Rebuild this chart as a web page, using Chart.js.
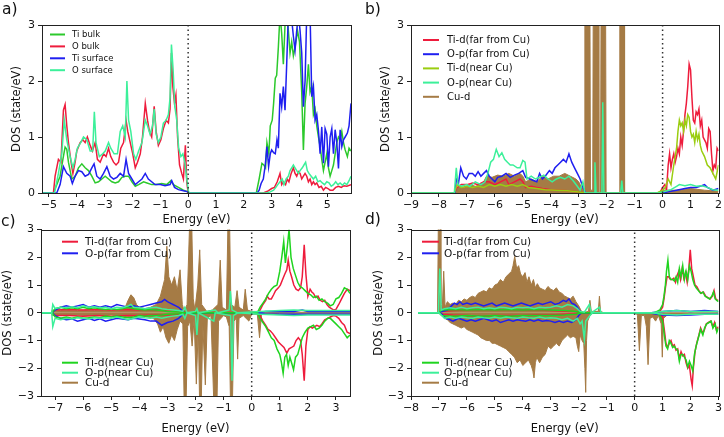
<!DOCTYPE html>
<html>
<head>
<meta charset="utf-8">
<script src="https://cdn.jsdelivr.net/npm/chart.js@4.4.0/dist/chart.umd.min.js"></script>
<style>
body { margin: 0; background: #fff; width: 724px; height: 437px; overflow: hidden; position: relative; font-family: "DejaVu Sans", sans-serif; }
canvas { position: absolute; }
.tag { position: absolute; font-size: 15.5px; line-height: 1; color: #111; }
</style>
</head>
<body>
<canvas id="pa" width="362" height="228" style="left:0;top:0"></canvas>
<canvas id="pb" width="362" height="228" style="left:362px;top:0"></canvas>
<canvas id="pc" width="362" height="217" style="left:0;top:220px"></canvas>
<canvas id="pd" width="362" height="217" style="left:362px;top:220px"></canvas>
<div class="tag" style="left:2px;top:2px">a)</div>
<div class="tag" style="left:365px;top:2px">b)</div>
<div class="tag" style="left:1px;top:214px">c)</div>
<div class="tag" style="left:365px;top:212px">d)</div>
<script>
// ---- values: [energy (eV), DOS (state/eV)] ----
var fermi = 0;
var xRangeA = [-5.25, 5.85], xRangeB = [-9, 2], xRangeC = [-7.5, 3.5], xRangeD = [-8, 3];
var yRangeTop = [0, 3], yRangeBottom = [-3, 3];
var xTicksA = [-5, -4, -3, -2, -1, 0, 1, 2, 3, 4, 5];
var xTicksB = [-9, -8, -7, -6, -5, -4, -3, -2, -1, 0, 1, 2];
var xTicksC = [-7, -6, -5, -4, -3, -2, -1, 0, 1, 2, 3];
var xTicksD = [-8, -7, -6, -5, -4, -3, -2, -1, 0, 1, 2, 3];
var yTicksTop = [0, 1, 2, 3];
var yTicksBottom = [-3, -2, -1, 0, 1, 2, 3];

// a) bare surface
var aTiBulk = [[-5.25,0],[-4.84,0],[-4.72,0.15],[-4.6,0.3],[-4.5,0.6],[-4.42,0.82],[-4.36,0.78],[-4.3,0.55],[-4.18,0.25],[-4.06,0.3],[-3.94,0.45],[-3.82,0.52],[-3.7,0.45],[-3.58,0.4],[-3.46,0.3],[-3.34,0.18],[-3.22,0.2],[-3.1,0.25],[-2.98,0.3],[-2.86,0.25],[-2.74,0.2],[-2.62,0.18],[-2.5,0.2],[-2.38,0.28],[-2.26,0.3],[-2.14,0.3],[-2.02,0.2],[-1.9,0.12],[-1.78,0.15],[-1.6,0.2],[-1.48,0.18],[-1.31,0.15],[-1.13,0.15],[-0.95,0.17],[-0.77,0.15],[-0.62,0.22],[-0.53,0.15],[-0.35,0.1],[-0.17,0.05],[0,0.02],[0.05,0],
  [2.45,0],[2.55,0.25],[2.65,0.53],[2.72,0.5],[2.78,0.45],[2.83,0.9],[2.9,0.7],[2.95,1.2],[3.02,1.3],[3.07,1.6],[3.13,2.05],[3.18,2.1],[3.24,2.6],[3.3,3.2],[3.36,2.85],[3.42,2.3],[3.48,3.0],[3.54,3.2],[3.6,2.9],[3.66,2.5],[3.72,2.7],[3.78,2.45],[3.84,2.6],[3.93,2.9],[4.0,2.7],[4.08,1.8],[4.14,0.77],[4.2,1.6],[4.26,1.9],[4.32,2.3],[4.38,1.8],[4.44,1.9],[4.5,1.4],[4.56,1.5],[4.62,1.2],[4.68,1.0],[4.74,0.83],[4.8,0.6],[4.86,0.4],[4.92,0.55],[4.98,0.7],[5.04,0.45],[5.1,0.3],[5.16,0.4],[5.22,0.5],[5.28,0.7],[5.34,0.9],[5.4,1.0],[5.46,0.95],[5.52,1.1],[5.58,0.9],[5.64,0.77],[5.72,0.65],[5.78,0.8],[5.85,0.75]];
var aOBulk = [[-5.25,0],[-4.84,0],[-4.78,0.3],[-4.66,0.6],[-4.57,0.55],[-4.48,1.48],[-4.42,1.58],[-4.36,1.2],[-4.3,0.9],[-4.22,0.6],[-4.14,0.35],[-4.06,0.55],[-4.0,0.75],[-3.88,0.9],[-3.78,0.95],[-3.7,0.9],[-3.62,1.0],[-3.52,0.85],[-3.44,0.75],[-3.34,0.9],[-3.26,0.6],[-3.16,0.55],[-3.04,0.7],[-2.95,0.65],[-2.86,0.8],[-2.78,0.65],[-2.68,0.55],[-2.59,0.5],[-2.5,0.55],[-2.42,0.8],[-2.32,0.9],[-2.23,1.3],[-2.17,1.1],[-2.08,0.9],[-1.99,0.7],[-1.9,0.45],[-1.82,0.55],[-1.72,0.7],[-1.64,1.0],[-1.54,1.6],[-1.46,1.3],[-1.39,1.1],[-1.31,1.0],[-1.22,1.55],[-1.15,1.1],[-1.07,0.85],[-0.98,0.95],[-0.89,1.15],[-0.79,1.3],[-0.71,1.25],[-0.65,1.5],[-0.6,2.5],[-0.55,1.9],[-0.49,1.6],[-0.44,1.75],[-0.38,1.0],[-0.31,0.5],[-0.23,0.35],[-0.17,0.25],[-0.1,0.85],[-0.05,0.2],[0,0],
  [2.7,0],[2.85,0.03],[3.0,0.08],[3.1,0.1],[3.2,0.2],[3.3,0.35],[3.36,0.15],[3.42,0.2],[3.5,0.15],[3.56,0.25],[3.62,0.2],[3.7,0.35],[3.78,0.45],[3.84,0.35],[3.9,0.3],[3.96,0.38],[4.02,0.35],[4.08,0.25],[4.14,0.3],[4.2,0.35],[4.26,0.3],[4.32,0.2],[4.38,0.25],[4.44,0.15],[4.5,0.2],[4.56,0.15],[4.62,0.18],[4.7,0.1],[4.78,0.12],[4.86,0.05],[4.94,0.1],[5.02,0.08],[5.1,0.05],[5.2,0.05],[5.3,0.1],[5.4,0.12],[5.5,0.1],[5.6,0.13],[5.7,0.12],[5.85,0.15]];
var aTiSurf = [[-5.25,0],[-4.72,0],[-4.6,0.15],[-4.48,0.47],[-4.36,0.35],[-4.24,0.3],[-4.16,0.17],[-4.06,0.3],[-3.94,0.4],[-3.82,0.38],[-3.7,0.3],[-3.58,0.33],[-3.46,0.45],[-3.38,0.52],[-3.28,0.3],[-3.16,0.25],[-3.04,0.35],[-2.92,0.47],[-2.8,0.3],[-2.68,0.25],[-2.56,0.28],[-2.44,0.35],[-2.32,0.3],[-2.23,0.6],[-2.14,0.35],[-2.02,0.25],[-1.9,0.15],[-1.78,0.2],[-1.66,0.25],[-1.54,0.35],[-1.43,0.25],[-1.31,0.2],[-1.19,0.15],[-1.0,0.15],[-0.83,0.13],[-0.65,0.15],[-0.59,0.22],[-0.49,0.1],[-0.35,0.06],[-0.17,0.04],[0,0.02],[0.05,0],
  [2.48,0],[2.55,0.05],[2.62,0.17],[2.7,0.25],[2.77,0.5],[2.83,0.83],[2.89,0.47],[2.95,0.7],[3.0,0.77],[3.07,0.72],[3.13,0.7],[3.19,0.95],[3.24,0.8],[3.3,1.78],[3.36,1.54],[3.42,1.9],[3.48,1.48],[3.54,2.3],[3.6,3.2],[3.7,3.2],[3.78,2.8],[3.84,2.55],[3.9,2.9],[3.96,3.2],[4.02,2.9],[4.08,2.5],[4.14,1.54],[4.2,2.0],[4.26,3.2],[4.38,3.2],[4.44,1.72],[4.5,1.9],[4.56,1.3],[4.62,1.4],[4.68,1.12],[4.74,0.7],[4.8,1.18],[4.86,0.53],[4.92,1.15],[4.98,1.05],[5.04,0.47],[5.1,1.0],[5.16,1.15],[5.22,0.7],[5.28,1.13],[5.34,0.9],[5.4,0.44],[5.46,1.13],[5.52,0.83],[5.58,0.95],[5.64,1.0],[5.72,1.07],[5.78,1.2],[5.85,1.6]];
var aOSurf = [[-5.25,0],[-4.8,0],[-4.78,0.05],[-4.66,0.35],[-4.54,0.7],[-4.45,1.3],[-4.36,0.95],[-4.24,0.65],[-4.14,0.45],[-4.06,0.6],[-3.98,0.8],[-3.86,0.9],[-3.76,1.0],[-3.64,0.95],[-3.52,0.75],[-3.43,0.75],[-3.37,1.45],[-3.31,0.9],[-3.19,0.65],[-3.07,0.7],[-2.98,0.75],[-2.86,0.9],[-2.78,0.8],[-2.66,0.7],[-2.54,0.7],[-2.44,1.1],[-2.35,1.2],[-2.26,1.0],[-2.2,2.0],[-2.14,1.3],[-2.06,1.1],[-1.96,0.7],[-1.88,0.6],[-1.78,0.75],[-1.66,0.9],[-1.54,1.3],[-1.46,1.2],[-1.37,1.05],[-1.28,1.2],[-1.22,1.5],[-1.15,1.05],[-1.07,0.9],[-0.98,1.0],[-0.89,1.25],[-0.79,1.3],[-0.71,1.4],[-0.65,1.7],[-0.6,2.65],[-0.54,2.2],[-0.48,1.55],[-0.41,1.3],[-0.34,0.8],[-0.26,0.65],[-0.19,0.7],[-0.12,0.55],[-0.05,0.25],[0.02,0],
  [2.8,0],[2.95,0.02],[3.07,0.05],[3.15,0.1],[3.22,0.15],[3.3,0.2],[3.38,0.25],[3.44,0.15],[3.52,0.25],[3.6,0.3],[3.66,0.4],[3.72,0.45],[3.78,0.5],[3.84,0.45],[3.9,0.4],[3.96,0.35],[4.02,0.4],[4.1,0.45],[4.16,0.5],[4.22,0.55],[4.28,0.4],[4.34,0.35],[4.42,0.3],[4.5,0.25],[4.58,0.3],[4.66,0.2],[4.74,0.22],[4.82,0.18],[4.9,0.15],[4.98,0.2],[5.06,0.18],[5.14,0.12],[5.22,0.15],[5.3,0.2],[5.38,0.15],[5.46,0.18],[5.54,0.14],[5.62,0.18],[5.7,0.15],[5.78,0.22],[5.85,0.3]];

// b) Cu on surface, no spin
var bTiFar = [[-9,0],[-7.45,0],[-7.35,0.1],[-7.2,0.15],[-7.0,0.15],[-6.8,0.18],[-6.6,0.15],[-6.4,0.2],[-6.2,0.2],[-6.0,0.15],[-5.8,0.2],[-5.6,0.25],[-5.5,0.15],[-5.3,0.2],[-5.1,0.25],[-5.0,0.2],[-4.9,0.1],[-4.7,0.12],[-4.5,0.1],[-4.3,0.08],[-4.0,0.06],[-3.7,0.05],[-3.4,0.04],[-3.0,0.02],[-2.8,0],[-0.1,0],[0.0,0.1],[0.08,0.15],[0.14,0.05],[0.2,0.5],[0.25,0.7],[0.3,0.45],[0.35,0.6],[0.4,0.7],[0.45,0.55],[0.5,0.65],[0.55,0.8],[0.6,0.7],[0.65,1.0],[0.7,0.85],[0.75,1.1],[0.8,1.4],[0.85,1.6],[0.9,1.9],[0.95,2.3],[1.0,2.2],[1.05,1.7],[1.1,1.3],[1.15,1.25],[1.2,1.45],[1.25,1.4],[1.3,1.5],[1.35,1.2],[1.4,1.3],[1.45,1.0],[1.5,0.95],[1.55,0.9],[1.6,0.8],[1.65,1.15],[1.7,1.1],[1.75,0.7],[1.8,0.4],[1.85,0.5],[1.9,0.45],[1.95,0.8],[2.0,0.75]];
var bOFar = [[-9,0],[-7.42,0],[-7.38,0.25],[-7.3,0.18],[-7.22,0.45],[-7.12,0.3],[-7.02,0.25],[-6.92,0.35],[-6.8,0.35],[-6.7,0.3],[-6.6,0.38],[-6.5,0.3],[-6.4,0.35],[-6.3,0.4],[-6.2,0.3],[-6.1,0.25],[-6.0,0.2],[-5.9,0.28],[-5.75,0.3],[-5.6,0.35],[-5.45,0.28],[-5.3,0.32],[-5.15,0.35],[-5.0,0.4],[-4.9,0.28],[-4.75,0.25],[-4.6,0.22],[-4.5,0.2],[-4.4,0.35],[-4.3,0.25],[-4.2,0.3],[-4.05,0.4],[-3.95,0.35],[-3.85,0.45],[-3.75,0.5],[-3.65,0.55],[-3.55,0.6],[-3.45,0.55],[-3.35,0.7],[-3.25,0.55],[-3.15,0.45],[-3.05,0.35],[-2.95,0.25],[-2.85,0.1],[-2.75,0],[0.0,0],[0.2,0.02],[0.5,0.05],[0.8,0.08],[1.0,0.1],[1.2,0.1],[1.4,0.13],[1.5,0.15],[1.6,0.1],[1.8,0.05],[2,0.08]];
var bTiNear = [[-9,0],[-7.45,0],[-7.35,0.15],[-7.2,0.1],[-7.0,0.12],[-6.8,0.1],[-6.6,0.12],[-6.4,0.1],[-6.2,0.15],[-6.0,0.12],[-5.8,0.15],[-5.6,0.12],[-5.4,0.15],[-5.2,0.12],[-5.0,0.15],[-4.8,0.1],[-4.5,0.08],[-4.2,0.06],[-3.8,0.05],[-3.4,0.04],[-3.0,0.02],[-2.8,0],[-0.2,0],[0.0,0.05],[0.1,0.1],[0.2,0.25],[0.3,0.15],[0.4,0.5],[0.5,0.8],[0.55,1.1],[0.6,1.3],[0.65,1.2],[0.7,1.25],[0.75,1.1],[0.8,1.3],[0.85,1.2],[0.9,1.4],[0.95,1.35],[1.0,1.1],[1.05,1.0],[1.1,1.05],[1.15,0.9],[1.2,1.1],[1.25,0.95],[1.3,1.05],[1.35,0.85],[1.4,0.75],[1.5,0.65],[1.6,0.5],[1.7,0.45],[1.8,0.35],[1.9,0.25],[2.0,0.5]];
var bONear = [[-9,0],[-7.45,0],[-7.38,0.45],[-7.32,0.15],[-7.2,0.12],[-7.0,0.15],[-6.9,0.12],[-6.7,0.2],[-6.5,0.15],[-6.35,0.2],[-6.25,0.35],[-6.15,0.55],[-6.05,0.6],[-5.95,0.78],[-5.85,0.65],[-5.75,0.72],[-5.65,0.6],[-5.55,0.55],[-5.45,0.5],[-5.35,0.5],[-5.2,0.45],[-5.1,0.45],[-5.0,0.58],[-4.92,0.55],[-4.85,0.25],[-4.7,0.3],[-4.55,0.25],[-4.4,0.28],[-4.25,0.32],[-4.1,0.25],[-3.95,0.2],[-3.8,0.25],[-3.65,0.28],[-3.5,0.25],[-3.35,0.3],[-3.2,0.22],[-3.05,0.12],[-2.95,0.05],[-2.85,0.2],[-2.78,0],[-2.45,0],[-2.42,0.55],[-2.38,0],[-2.17,0],[-2.14,1.62],[-2.1,0],[-1.5,0],[-1.46,0.22],[-1.42,0],[-0.15,0],[0.1,0.03],[0.3,0.06],[0.5,0.12],[0.6,0.15],[0.8,0.13],[1.0,0.15],[1.2,0.12],[1.4,0.13],[1.6,0.1],[1.8,0.06],[2,0.05]];
var bCu = [[-9,0],[-7.45,0],[-7.4,0.05],[-7.3,0.12],[-7.1,0.1],[-6.9,0.15],[-6.7,0.12],[-6.5,0.15],[-6.4,0.2],[-6.3,0.3],[-6.1,0.28],[-5.9,0.32],[-5.7,0.3],[-5.5,0.35],[-5.3,0.3],[-5.1,0.35],[-5.0,0.3],[-4.9,0.2],[-4.7,0.25],[-4.5,0.2],[-4.3,0.3],[-4.1,0.25],[-3.9,0.3],[-3.7,0.3],[-3.5,0.35],[-3.3,0.3],[-3.1,0.25],[-3.0,0.2],[-2.9,0.1],[-2.8,0.05],[-2.78,3.5],[-2.6,3.5],[-2.58,0.05],[-2.5,0.05],[-2.48,3.5],[-2.3,3.5],[-2.28,0],[-2.22,0],[-2.2,3.5],[-2.04,3.5],[-2.02,0],[-1.55,0],[-1.53,3.5],[-1.38,3.5],[-1.36,0],[-0.2,0],[0,0.05],[0.5,0.05],[1.0,0.08],[1.5,0.05],[2,0.03]];

// c) Cu on surface, spin up (+) / spin down (-)
var cTiFarUp = [[-7.5,0],[-7.1,0],[-7.0,0.1],[-6.5,0.12],[-6,0.1],[-5.5,0.12],[-5,0.1],[-4.5,0.12],[-4,0.1],[-3.5,0.1],[-3,0.08],[-2.5,0.05],[-2.3,0],[0.2,0],[0.3,0.1],[0.4,0.3],[0.5,0.45],[0.55,0.6],[0.62,0.5],[0.7,0.5],[0.78,0.65],[0.85,0.8],[0.95,0.9],[1.02,1.0],[1.1,1.2],[1.18,1.4],[1.25,1.55],[1.3,1.9],[1.36,1.5],[1.42,1.3],[1.5,1.0],[1.58,0.85],[1.66,0.8],[1.74,0.9],[1.8,1.3],[1.87,2.45],[1.93,1.4],[2.0,0.6],[2.08,0.85],[2.14,0.75],[2.2,0.7],[2.28,0.55],[2.36,0.6],[2.44,0.45],[2.52,0.4],[2.6,0.45],[2.68,0.3],[2.76,0.2],[2.84,0.15],[2.92,0.1],[3.0,0.12],[3.1,0.3],[3.2,0.5],[3.3,0.7],[3.4,0.85],[3.5,0.8]];
var cTiFarDn = [[-7.5,0],[-7.1,0],[-7.0,-0.1],[-6.5,-0.1],[-6,-0.12],[-5.5,-0.1],[-5,-0.12],[-4.5,-0.1],[-4,-0.1],[-3.5,-0.08],[-3,-0.08],[-2.5,-0.05],[-2.3,0],[0.2,0],[0.3,-0.1],[0.4,-0.3],[0.5,-0.45],[0.58,-0.6],[0.66,-0.65],[0.75,-0.75],[0.85,-0.9],[0.95,-1.05],[1.05,-1.15],[1.15,-1.25],[1.25,-1.45],[1.33,-1.3],[1.42,-1.25],[1.5,-1.2],[1.58,-1.0],[1.66,-0.9],[1.74,-1.0],[1.8,-1.5],[1.87,-2.45],[1.93,-1.2],[2.0,-0.6],[2.08,-0.5],[2.16,-0.55],[2.24,-0.5],[2.32,-0.45],[2.42,-0.5],[2.5,-0.4],[2.6,-0.25],[2.7,-0.2],[2.8,-0.15],[2.9,-0.1],[3.0,-0.12],[3.1,-0.2],[3.2,-0.35],[3.3,-0.45],[3.4,-0.7],[3.5,-0.75]];
var cOFarUp = [[-7.5,0],[-7.1,0],[-7.0,0.1],[-6.8,0.2],[-6.6,0.25],[-6.4,0.2],[-6.2,0.25],[-6.0,0.3],[-5.8,0.2],[-5.6,0.25],[-5.4,0.2],[-5.2,0.25],[-5.0,0.2],[-4.8,0.3],[-4.6,0.25],[-4.4,0.2],[-4.2,0.25],[-4.0,0.2],[-3.8,0.25],[-3.6,0.3],[-3.4,0.35],[-3.2,0.4],[-3.1,0.48],[-3.0,0.4],[-2.9,0.35],[-2.8,0.3],[-2.7,0.25],[-2.6,0.2],[-2.5,0.1],[-2.4,0],[0.2,0],[0.5,0.05],[1.0,0.05],[1.5,0.05],[1.8,0.1],[2.0,0.05],[2.5,0.05],[3.0,0.05],[3.5,0.05]];
var cOFarDn = [[-7.5,0],[-7.1,0],[-7.0,-0.1],[-6.8,-0.2],[-6.6,-0.25],[-6.4,-0.22],[-6.2,-0.3],[-6.0,-0.25],[-5.8,-0.2],[-5.6,-0.28],[-5.4,-0.22],[-5.2,-0.3],[-5.0,-0.25],[-4.8,-0.2],[-4.6,-0.22],[-4.4,-0.25],[-4.2,-0.2],[-4.0,-0.22],[-3.8,-0.25],[-3.6,-0.3],[-3.4,-0.3],[-3.2,-0.45],[-3.0,-0.35],[-2.8,-0.3],[-2.6,-0.2],[-2.5,-0.1],[-2.4,0],[0.2,0],[0.5,-0.05],[1.0,-0.05],[1.5,-0.05],[2.0,-0.05],[2.5,-0.05],[3.0,-0.05],[3.5,-0.05]];
var cTiNearUp = [[-7.5,0],[-7.1,0],[-7.0,0.15],[-6.8,0.2],[-6.6,0.15],[-6.4,0.18],[-6.2,0.15],[-6,0.2],[-5.8,0.15],[-5.6,0.18],[-5.4,0.15],[-5.2,0.12],[-5,0.15],[-4.8,0.12],[-4.6,0.15],[-4.4,0.2],[-4.2,0.15],[-4,0.12],[-3.8,0.1],[-3.6,0.12],[-3.4,0.1],[-3.2,0.08],[-3,0.05],[-2.6,0.03],[-2.3,0],[0.2,0],[0.3,0.2],[0.4,0.35],[0.5,0.5],[0.6,0.7],[0.7,0.85],[0.8,0.95],[0.9,1.0],[1.0,1.5],[1.07,2.0],[1.14,2.57],[1.2,1.8],[1.27,2.4],[1.33,3.0],[1.4,2.0],[1.48,1.6],[1.56,1.35],[1.64,1.1],[1.72,0.95],[1.8,0.9],[1.9,0.8],[2.0,0.7],[2.1,0.65],[2.2,0.55],[2.3,0.6],[2.4,0.45],[2.5,0.5],[2.6,0.4],[2.7,0.35],[2.8,0.25],[2.9,0.3],[3.0,0.5],[3.1,0.55],[3.2,0.7],[3.3,0.9],[3.4,0.85],[3.5,0.7]];
var cTiNearDn = [[-7.5,0],[-7.1,0],[-7.0,-0.15],[-6.8,-0.2],[-6.6,-0.15],[-6.4,-0.2],[-6.2,-0.15],[-6,-0.2],[-5.8,-0.18],[-5.6,-0.15],[-5.4,-0.18],[-5.2,-0.12],[-5,-0.15],[-4.8,-0.12],[-4.6,-0.15],[-4.4,-0.18],[-4.2,-0.15],[-4,-0.1],[-3.8,-0.12],[-3.6,-0.1],[-3.4,-0.1],[-3.2,-0.08],[-3,-0.05],[-2.6,-0.03],[-2.3,0],[0.2,0],[0.3,-0.2],[0.4,-0.35],[0.5,-0.5],[0.6,-0.7],[0.7,-0.9],[0.8,-1.0],[0.9,-1.3],[1.0,-1.5],[1.06,-1.8],[1.12,-2.18],[1.18,-1.6],[1.24,-1.5],[1.3,-1.9],[1.36,-1.6],[1.42,-1.8],[1.49,-2.05],[1.56,-1.6],[1.64,-1.5],[1.72,-1.2],[1.8,-0.9],[1.9,-0.7],[2.0,-0.55],[2.1,-0.5],[2.2,-0.45],[2.3,-0.6],[2.4,-0.55],[2.5,-0.45],[2.6,-0.3],[2.7,-0.2],[2.8,-0.2],[2.9,-0.3],[3.0,-0.4],[3.1,-0.5],[3.2,-0.6],[3.3,-0.75],[3.4,-0.9],[3.5,-0.8]];
var cONearUp = [[-7.5,0],[-7.12,0],[-7.08,0.3],[-7.0,0.15],[-6.8,0.2],[-6.6,0.18],[-6.4,0.22],[-6.2,0.18],[-6.0,0.25],[-5.8,0.2],[-5.6,0.22],[-5.4,0.18],[-5.2,0.2],[-5.0,0.15],[-4.8,0.2],[-4.6,0.18],[-4.4,0.25],[-4.3,0.3],[-4.2,0.2],[-4.0,0.18],[-3.8,0.15],[-3.6,0.18],[-3.4,0.2],[-3.2,0.15],[-3.0,0.12],[-2.8,0.1],[-2.6,0.08],[-2.45,0.05],[-2.38,0.2],[-2.3,0],[-2.0,0.05],[-1.95,0.15],[-1.9,0],[-1.3,0.1],[-1.2,0],[-0.8,0.1],[-0.76,0.78],[-0.7,0.1],[-0.5,0],[0.3,0.05],[1.0,0.08],[1.5,0.1],[2.0,0.08],[2.5,0.08],[3.0,0.08],[3.5,0.08]];
var cONearDn = [[-7.5,0],[-7.12,0],[-7.08,-0.5],[-7.0,-0.2],[-6.8,-0.25],[-6.6,-0.2],[-6.4,-0.22],[-6.2,-0.18],[-6.0,-0.2],[-5.8,-0.22],[-5.6,-0.18],[-5.4,-0.2],[-5.2,-0.18],[-5.0,-0.2],[-4.8,-0.15],[-4.6,-0.2],[-4.4,-0.25],[-4.2,-0.2],[-4.0,-0.15],[-3.8,-0.18],[-3.6,-0.2],[-3.4,-0.15],[-3.2,-0.2],[-3.0,-0.15],[-2.8,-0.12],[-2.6,-0.1],[-2.45,-0.05],[-2.38,-0.2],[-2.3,0],[-2.0,-0.1],[-1.95,-0.8],[-1.9,0],[-1.35,-0.3],[-1.3,0],[-0.75,-0.1],[-0.7,-2.45],[-0.65,-0.1],[-0.5,0],[0.3,-0.05],[1.0,-0.08],[1.5,-0.1],[2.0,-0.08],[2.5,-0.08],[3.0,-0.08],[3.5,-0.08]];
var cCuUp = [[-7.5,0],[-7.15,0],[-7.1,0.1],[-6.8,0.08],[-6.5,0.1],[-6.2,0.08],[-5.9,0.1],[-5.6,0.08],[-5.3,0.1],[-5.0,0.08],[-4.7,0.1],[-4.5,0.2],[-4.4,0.45],[-4.3,0.65],[-4.2,0.55],[-4.1,0.3],[-4.0,0.2],[-3.8,0.15],[-3.6,0.2],[-3.4,0.3],[-3.25,0.6],[-3.1,1.2],[-3.02,2.4],[-2.95,1.3],[-2.85,1.0],[-2.75,1.3],[-2.65,0.8],[-2.55,1.55],[-2.47,0.3],[-2.4,0.05],[-2.3,0.3],[-2.2,3.5],[-2.14,3.5],[-2.08,0.5],[-2.02,0.1],[-1.92,1.0],[-1.85,2.27],[-1.78,0.3],[-1.6,0.05],[-1.4,0.1],[-1.2,0.3],[-1.12,1.9],[-1.05,0.2],[-0.9,0.1],[-0.84,3.5],[-0.79,3.5],[-0.74,0.3],[-0.6,0.2],[-0.52,0.8],[-0.45,0.2],[-0.3,0.1],[-0.23,0.85],[-0.15,0.1],[0,0.05],[0.3,0.05],[1.0,0.02],[3.5,0.02]];
var cCuDn = [[-7.5,0],[-7.15,0],[-7.1,-0.1],[-6.8,-0.08],[-6.5,-0.1],[-6.2,-0.08],[-5.9,-0.1],[-5.6,-0.08],[-5.3,-0.1],[-5.0,-0.08],[-4.7,-0.1],[-4.4,-0.15],[-4.2,-0.12],[-4.0,-0.1],[-3.7,-0.15],[-3.5,-0.2],[-3.35,-0.4],[-3.25,-0.7],[-3.15,-0.5],[-3.05,-0.9],[-2.95,-1.1],[-2.85,-0.8],[-2.75,-1.0],[-2.65,-0.6],[-2.55,-0.3],[-2.45,-0.4],[-2.4,-3.5],[-2.34,-3.5],[-2.28,-0.5],[-2.2,-0.3],[-2.12,-1.2],[-2.05,-0.2],[-1.97,-2.57],[-1.9,-0.5],[-1.85,-3.5],[-1.8,-3.5],[-1.74,-0.4],[-1.65,-2.6],[-1.58,-0.2],[-1.45,-0.1],[-1.34,-3.5],[-1.24,-3.5],[-1.18,-0.3],[-1.0,-0.1],[-0.9,-0.15],[-0.8,-0.5],[-0.75,-3.5],[-0.69,-3.5],[-0.63,-0.3],[-0.55,-0.2],[-0.5,-1.67],[-0.45,-0.2],[-0.3,-0.1],[-0.1,-0.3],[0,-0.05],[0.2,-0.05],[0.28,-0.9],[0.35,-0.05],[1.0,-0.02],[3.5,-0.02]];

// d) second Cu configuration, spin up (+) / spin down (-)
var dTiFarUp = [[-7.75,0],[-7.0,0],[-6.9,0.05],[-6.5,0.08],[-6.0,0.1],[-5.5,0.12],[-5.0,0.1],[-4.5,0.12],[-4.0,0.1],[-3.5,0.1],[-3.0,0.08],[-2.5,0.06],[-2.1,0.04],[-1.9,0],[0.8,0],[0.9,0.05],[1.0,0.2],[1.05,0.5],[1.1,0.9],[1.16,1.3],[1.22,1.3],[1.28,1.2],[1.34,1.2],[1.4,1.25],[1.46,1.1],[1.52,1.35],[1.58,1.5],[1.64,1.2],[1.7,1.6],[1.76,1.25],[1.82,1.45],[1.88,1.1],[1.94,1.6],[1.99,2.27],[2.04,1.6],[2.1,1.3],[2.16,1.0],[2.22,0.95],[2.3,0.8],[2.38,0.7],[2.46,0.75],[2.54,0.6],[2.62,0.55],[2.7,0.5],[2.78,0.6],[2.84,0.8],[2.9,0.5],[2.96,0.45],[3.0,0.45]];
var dTiFarDn = [[-7.75,0],[-7.0,0],[-6.9,-0.05],[-6.5,-0.08],[-6.0,-0.1],[-5.5,-0.12],[-5.0,-0.1],[-4.5,-0.1],[-4.0,-0.1],[-3.5,-0.08],[-3.0,-0.08],[-2.5,-0.05],[-2.1,-0.03],[-1.9,0],[0.8,0],[0.9,-0.05],[1.0,-0.15],[1.06,-0.6],[1.12,-1.1],[1.18,-1.25],[1.24,-1.1],[1.3,-1.0],[1.36,-1.2],[1.42,-1.15],[1.48,-1.35],[1.54,-1.3],[1.6,-1.65],[1.66,-1.4],[1.72,-1.55],[1.78,-1.5],[1.84,-1.8],[1.9,-2.0],[1.96,-1.9],[2.02,-2.4],[2.06,-2.63],[2.1,-2.0],[2.16,-1.4],[2.22,-1.1],[2.3,-0.8],[2.36,-0.55],[2.44,-0.75],[2.5,-0.6],[2.56,-0.4],[2.64,-0.35],[2.72,-0.3],[2.8,-0.5],[2.86,-0.35],[2.92,-0.6],[3.0,-0.5]];
var dOFarUp = [[-7.75,0],[-7.0,0],[-6.9,0.05],[-6.7,0.1],[-6.55,0.25],[-6.45,0.35],[-6.35,0.3],[-6.25,0.4],[-6.15,0.3],[-6.0,0.35],[-5.85,0.3],[-5.7,0.35],[-5.55,0.3],[-5.4,0.25],[-5.25,0.3],[-5.1,0.35],[-4.95,0.25],[-4.8,0.3],[-4.65,0.35],[-4.5,0.3],[-4.35,0.25],[-4.2,0.3],[-4.05,0.35],[-3.9,0.3],[-3.75,0.25],[-3.6,0.3],[-3.45,0.35],[-3.3,0.3],[-3.15,0.35],[-3.0,0.4],[-2.85,0.3],[-2.7,0.35],[-2.55,0.45],[-2.45,0.4],[-2.35,0.5],[-2.25,0.35],[-2.15,0.3],[-2.05,0.2],[-1.95,0.05],[-1.85,0],[0.6,0],[0.8,0.03],[1.0,0.05],[1.5,0.08],[2.0,0.05],[2.5,0.08],[3.0,0.05]];
var dOFarDn = [[-7.75,0],[-7.0,0],[-6.9,-0.05],[-6.75,-0.2],[-6.6,-0.25],[-6.5,-0.3],[-6.4,-0.25],[-6.3,-0.2],[-6.15,-0.25],[-6.0,-0.3],[-5.85,-0.25],[-5.7,-0.3],[-5.55,-0.25],[-5.4,-0.2],[-5.25,-0.25],[-5.1,-0.3],[-4.95,-0.25],[-4.8,-0.35],[-4.65,-0.3],[-4.5,-0.25],[-4.35,-0.3],[-4.2,-0.25],[-4.05,-0.28],[-3.9,-0.3],[-3.75,-0.25],[-3.6,-0.3],[-3.45,-0.25],[-3.3,-0.3],[-3.15,-0.28],[-3.0,-0.3],[-2.85,-0.35],[-2.7,-0.3],[-2.55,-0.35],[-2.4,-0.3],[-2.25,-0.35],[-2.1,-0.25],[-2.0,-0.1],[-1.9,0],[0.5,0],[0.8,-0.05],[1.0,-0.08],[1.5,-0.1],[2.0,-0.08],[2.5,-0.05],[3.0,-0.05]];
var dTiNearUp = [[-7.75,0],[-7.0,0],[-6.9,0.1],[-6.5,0.12],[-6.0,0.1],[-5.5,0.12],[-5.0,0.1],[-4.5,0.12],[-4.0,0.1],[-3.5,0.12],[-3.0,0.1],[-2.5,0.08],[-2.1,0.05],[-1.9,0],[0.7,0],[0.8,0.05],[0.9,0.1],[1.0,0.3],[1.05,0.6],[1.1,1.0],[1.14,1.5],[1.19,1.9],[1.24,1.3],[1.3,1.2],[1.36,1.2],[1.42,1.15],[1.48,1.3],[1.54,1.1],[1.6,1.6],[1.66,1.3],[1.72,1.7],[1.78,1.2],[1.84,1.5],[1.9,1.2],[1.96,1.7],[2.02,1.5],[2.08,1.2],[2.14,1.0],[2.2,0.9],[2.28,0.8],[2.36,0.7],[2.44,0.75],[2.52,0.6],[2.6,0.55],[2.68,0.5],[2.76,0.6],[2.82,0.75],[2.88,0.5],[2.94,0.45],[3.0,0.4]];
var dTiNearDn = [[-7.75,0],[-7.0,0],[-6.9,-0.1],[-6.5,-0.12],[-6.0,-0.1],[-5.5,-0.12],[-5.0,-0.1],[-4.5,-0.12],[-4.0,-0.1],[-3.5,-0.1],[-3.0,-0.1],[-2.5,-0.08],[-2.1,-0.05],[-1.9,0],[0.8,0],[0.9,-0.1],[1.0,-0.3],[1.06,-0.8],[1.12,-1.2],[1.18,-1.3],[1.24,-1.0],[1.3,-1.1],[1.36,-1.25],[1.42,-1.2],[1.48,-1.3],[1.54,-1.35],[1.6,-1.75],[1.66,-1.5],[1.72,-1.5],[1.78,-1.6],[1.84,-1.7],[1.9,-1.95],[1.96,-1.75],[2.02,-1.9],[2.08,-2.1],[2.14,-1.5],[2.2,-1.2],[2.28,-0.9],[2.36,-0.6],[2.44,-0.8],[2.5,-0.55],[2.58,-0.4],[2.66,-0.35],[2.74,-0.3],[2.8,-0.55],[2.88,-0.4],[2.94,-0.7],[3.0,-0.55]];
var dONearUp = [[-7.75,0],[-7.02,0],[-6.97,1.6],[-6.92,0.1],[-6.8,0.15],[-6.6,0.18],[-6.4,0.15],[-6.2,0.2],[-6.0,0.15],[-5.8,0.18],[-5.6,0.2],[-5.4,0.15],[-5.2,0.18],[-5.0,0.15],[-4.8,0.2],[-4.6,0.18],[-4.4,0.15],[-4.2,0.2],[-4.0,0.18],[-3.8,0.2],[-3.6,0.15],[-3.4,0.2],[-3.2,0.18],[-3.0,0.2],[-2.8,0.25],[-2.6,0.2],[-2.4,0.3],[-2.2,0.25],[-2.05,0.15],[-1.95,0.05],[-1.8,0.02],[-1.62,0.3],[-1.55,0],[-1.26,0.2],[-1.2,0],[0.6,0],[1.0,0.05],[1.5,0.08],[2.0,0.05],[3.0,0.05]];
var dONearDn = [[-7.75,0],[-7.0,0],[-6.9,-0.1],[-6.8,-0.2],[-6.6,-0.15],[-6.4,-0.2],[-6.2,-0.15],[-6.0,-0.18],[-5.8,-0.2],[-5.6,-0.15],[-5.4,-0.18],[-5.2,-0.2],[-5.0,-0.15],[-4.8,-0.2],[-4.6,-0.15],[-4.4,-0.18],[-4.2,-0.2],[-4.0,-0.15],[-3.8,-0.18],[-3.6,-0.2],[-3.4,-0.15],[-3.2,-0.2],[-3.0,-0.18],[-2.8,-0.2],[-2.6,-0.25],[-2.4,-0.2],[-2.2,-0.3],[-2.05,-0.2],[-1.95,-0.4],[-1.88,-0.3],[-1.8,-0.95],[-1.75,-0.3],[-1.6,-0.1],[-1.5,0],[0.6,0],[1.0,-0.05],[1.5,-0.08],[2.0,-0.05],[3.0,-0.05]];
var dCuUp = [[-7.75,0],[-7.05,0],[-7.02,3.5],[-6.96,3.5],[-6.93,0.3],[-6.88,0.2],[-6.83,1.5],[-6.78,0.2],[-6.7,0.4],[-6.6,0.3],[-6.5,0.35],[-6.4,0.3],[-6.3,0.45],[-6.2,0.4],[-6.1,0.5],[-6.0,0.45],[-5.9,0.55],[-5.8,0.6],[-5.7,0.55],[-5.6,0.7],[-5.5,0.75],[-5.4,0.8],[-5.3,0.75],[-5.2,0.9],[-5.1,0.85],[-5.0,1.0],[-4.9,1.05],[-4.8,1.2],[-4.7,1.1],[-4.6,1.3],[-4.5,1.4],[-4.4,1.5],[-4.35,1.7],[-4.29,2.03],[-4.22,1.6],[-4.15,1.7],[-4.08,1.4],[-4.0,1.3],[-3.92,1.45],[-3.85,1.1],[-3.78,1.3],[-3.7,1.0],[-3.62,1.2],[-3.55,0.9],[-3.48,1.05],[-3.4,0.9],[-3.3,0.85],[-3.2,0.8],[-3.1,0.95],[-3.0,0.85],[-2.9,0.8],[-2.8,0.9],[-2.7,0.75],[-2.6,0.7],[-2.5,0.6],[-2.4,0.55],[-2.3,0.5],[-2.2,0.6],[-2.1,0.4],[-2.0,0.25],[-1.9,0.05],[-1.8,0.02],[-1.65,0.05],[-1.6,0.45],[-1.55,0.05],[-1.3,0.05],[-1.26,0.6],[-1.22,0.05],[-1.1,0],[3,0]];
var dCuDn = [[-7.75,0],[-7.0,0],[-6.9,-0.1],[-6.8,-0.2],[-6.7,-0.25],[-6.6,-0.35],[-6.5,-0.4],[-6.4,-0.45],[-6.3,-0.5],[-6.2,-0.55],[-6.1,-0.5],[-6.0,-0.6],[-5.9,-0.65],[-5.8,-0.7],[-5.7,-0.75],[-5.6,-0.8],[-5.5,-0.9],[-5.4,-0.95],[-5.3,-1.0],[-5.2,-1.0],[-5.1,-1.1],[-5.0,-1.1],[-4.9,-1.15],[-4.8,-1.2],[-4.7,-1.25],[-4.6,-1.3],[-4.5,-1.4],[-4.4,-1.5],[-4.3,-1.6],[-4.2,-1.8],[-4.1,-1.7],[-4.0,-1.9],[-3.9,-1.8],[-3.8,-1.7],[-3.7,-1.9],[-3.64,-2.1],[-3.6,-2.35],[-3.55,-1.8],[-3.5,-1.6],[-3.4,-1.8],[-3.3,-1.6],[-3.2,-1.5],[-3.1,-1.2],[-3.0,-1.3],[-2.9,-1.2],[-2.8,-1.1],[-2.7,-1.2],[-2.6,-1.0],[-2.5,-0.9],[-2.4,-0.8],[-2.3,-0.9],[-2.2,-0.85],[-2.1,-0.9],[-2.05,-1.2],[-2.0,-1.4],[-1.95,-0.8],[-1.88,-1.0],[-1.82,-1.1],[-1.78,-2.0],[-1.75,-2.87],[-1.72,-1.0],[-1.68,-0.3],[-1.6,-0.1],[-1.5,0],[0.05,0],[0.1,-0.1],[0.17,-1.37],[0.24,-0.1],[0.35,-0.1],[0.42,-0.5],[0.48,-1.87],[0.55,-0.2],[0.65,-0.15],[0.75,-0.3],[0.85,-0.1],[0.95,-0.4],[0.99,-1.6],[1.03,-0.2],[1.2,-0.05],[3,-0.02]];

var cRed = '#ee1c3c', cBlue = '#1f1ff0', cGreen = '#2cc92c', cGreen2 = '#1fd41f', cSpring = '#3cf09a', cLime = '#9acd10', cBrown = '#a57b45';

Chart.defaults.font.family = '"DejaVu Sans", sans-serif';
var tickFont = {size: 11};
var titleFont = {size: 11.5};

function pts(arr) {
	return arr.map(function (p) { return {x: p[0], y: p[1]}; });
}

function lineSet(label, arr, color) {
	return {label: label, data: pts(arr), borderColor: color, backgroundColor: color, borderWidth: 1.5, pointRadius: 0, fill: false, tension: 0};
}

function fillSet(label, arr, color) {
	return {label: label, data: pts(arr), borderColor: color, backgroundColor: color, borderWidth: 1, pointRadius: 0, fill: 'origin', tension: 0, clip: 0};
}

function fermiSet(yr) {
	return {label: '', data: [{x: fermi, y: yr[0]}, {x: fermi, y: yr[1]}], borderColor: '#333', borderWidth: 1.5, borderDash: [1.5, 3], pointRadius: 0, fill: false};
}

function minus(v) {
	return v < 0 ? '\u2212' + Math.abs(v) : String(v);
}

function fixedTicks(list) {
	return function (s) { s.ticks = list.map(function (v) { return {value: v}; }); };
}

// legend drawn inside the axes, like the matplotlib one
var panelLegend = {
	id: 'panelLegend',
	afterDatasetsDraw: function (chart, args, opts) {
		var ctx = chart.ctx;
		ctx.save();
		ctx.font = opts.size + 'px "DejaVu Sans"';
		ctx.textBaseline = 'middle';
		opts.groups.forEach(function (g) {
			g.items.forEach(function (idx, i) {
				var ds = chart.data.datasets[idx];
				var y = g.y + i * g.dy;
				ctx.strokeStyle = ds.borderColor;
				ctx.lineWidth = 2;
				ctx.beginPath();
				ctx.moveTo(g.x, y);
				ctx.lineTo(g.x + g.len, y);
				ctx.stroke();
				ctx.fillStyle = '#111';
				ctx.fillText(ds.label, g.tx, y + 0.5);
			});
		});
		ctx.restore();
	}
};

// box round the axes (top and right spines)
var frame = {
	id: 'frame',
	afterDraw: function (chart) {
		var a = chart.chartArea, ctx = chart.ctx;
		ctx.save();
		ctx.strokeStyle = '#222';
		ctx.lineWidth = 1;
		ctx.strokeRect(Math.round(a.left) + 0.5, Math.round(a.top) + 0.5, Math.round(a.right - a.left), Math.round(a.bottom - a.top));
		ctx.restore();
	}
};

function makePanel(id, o) {
	var sets = o.sets.concat([fermiSet(o.y)]);
	sets.forEach(function (s, i) { s.order = -i; }); // later series on top
	return new Chart(document.getElementById(id), {
		type: 'line',
		data: {datasets: sets},
		options: {
			responsive: false,
			animation: false,
			events: [],
			layout: {padding: o.pad},
			scales: {
				x: {
					type: 'linear', min: o.x[0], max: o.x[1],
					afterBuildTicks: fixedTicks(o.xt),
					afterFit: function (s) { s.height = o.xh; },
					border: {color: '#222', width: 1},
					grid: {drawOnChartArea: false, tickLength: 4, tickColor: '#222'},
					ticks: {autoSkip: false, maxRotation: 0, padding: 2, color: '#111', font: tickFont, callback: minus},
					title: {display: true, text: 'Energy (eV)', color: '#111', font: titleFont, padding: {top: 0, bottom: 1}}
				},
				y: {
					min: o.y[0], max: o.y[1],
					afterBuildTicks: fixedTicks(o.yt),
					afterFit: function (s) { s.width = o.yw; },
					border: {color: '#222', width: 1},
					grid: {drawOnChartArea: false, tickLength: 4, tickColor: '#222'},
					ticks: {padding: 3, color: '#111', font: tickFont, callback: minus},
					title: {display: true, text: 'DOS (state/eV)', color: '#111', font: titleFont, padding: {top: o.tp, bottom: 0}}
				}
			},
			plugins: {legend: {display: false}, tooltip: {enabled: false}, panelLegend: o.legend}
		},
		plugins: [panelLegend, frame]
	});
}

makePanel('pa', {
	x: xRangeA, y: yRangeTop, xt: xTicksA, yt: yTicksTop, pad: {left: 0, right: 11, top: 25, bottom: 0}, xh: 35, yw: 42, tp: 10,
	sets: [lineSet('Ti bulk', aTiBulk, cGreen), lineSet('O bulk', aOBulk, cRed), lineSet('Ti surface', aTiSurf, cBlue), lineSet('O surface', aOSurf, cSpring)],
	legend: {size: 8.5, groups: [{x: 50, len: 15, tx: 72, y: 34.5, dy: 11.9, items: [0, 1, 2, 3]}]}
});

makePanel('pb', {
	x: xRangeB, y: yRangeTop, xt: xTicksB, yt: yTicksTop, pad: {left: 7, right: 5, top: 25, bottom: 0}, xh: 35, yw: 42, tp: 10,
	sets: [fillSet('Cu-d', bCu, cBrown), lineSet('Ti-d(far from Cu)', bTiFar, cRed), lineSet('O-p(far from Cu)', bOFar, cBlue), lineSet('Ti-d(near Cu)', bTiNear, cLime), lineSet('O-p(near Cu)', bONear, cSpring)],
	legend: {size: 10, groups: [{x: 61, len: 16, tx: 85, y: 40, dy: 14.2, items: [1, 2, 3, 4, 0]}]}
});

makePanel('pc', {
	x: xRangeC, y: yRangeBottom, xt: xTicksC, yt: yTicksBottom, pad: {left: 0, right: 12, top: 8, bottom: 0}, xh: 41, yw: 41, tp: 1,
	sets: [fillSet('Cu-d', cCuUp, cBrown), fillSet('Cu-d', cCuDn, cBrown),
		lineSet('Ti-d(far from Cu)', cTiFarUp, cRed), lineSet('Ti-d(far from Cu)', cTiFarDn, cRed),
		lineSet('O-p(far from Cu)', cOFarUp, cBlue), lineSet('O-p(far from Cu)', cOFarDn, cBlue),
		lineSet('Ti-d(near Cu)', cTiNearUp, cGreen2), lineSet('Ti-d(near Cu)', cTiNearDn, cGreen2),
		lineSet('O-p(near Cu)', cONearUp, cSpring), lineSet('O-p(near Cu)', cONearDn, cSpring)],
	legend: {size: 10.5, groups: [{x: 62, len: 16, tx: 85, y: 21.7, dy: 11.6, items: [2, 4]}, {x: 62, len: 16, tx: 85, y: 142.7, dy: 10, items: [6, 8, 0]}]}
});

makePanel('pd', {
	x: xRangeD, y: yRangeBottom, xt: xTicksD, yt: yTicksBottom, pad: {left: 8, right: 5, top: 8, bottom: 0}, xh: 41, yw: 41, tp: 2,
	sets: [fillSet('Cu-d', dCuUp, cBrown), fillSet('Cu-d', dCuDn, cBrown),
		lineSet('Ti-d(far from Cu)', dTiFarUp, cRed), lineSet('Ti-d(far from Cu)', dTiFarDn, cRed),
		lineSet('O-p(far from Cu)', dOFarUp, cBlue), lineSet('O-p(far from Cu)', dOFarDn, cBlue),
		lineSet('Ti-d(near Cu)', dTiNearUp, cGreen2), lineSet('Ti-d(near Cu)', dTiNearDn, cGreen2),
		lineSet('O-p(near Cu)', dONearUp, cSpring), lineSet('O-p(near Cu)', dONearDn, cSpring)],
	legend: {size: 10.5, groups: [{x: 60, len: 17, tx: 82, y: 21.7, dy: 11.6, items: [2, 4]}, {x: 60, len: 17, tx: 82, y: 142.7, dy: 10, items: [6, 8, 0]}]}
});
</script>
</body>
</html>
